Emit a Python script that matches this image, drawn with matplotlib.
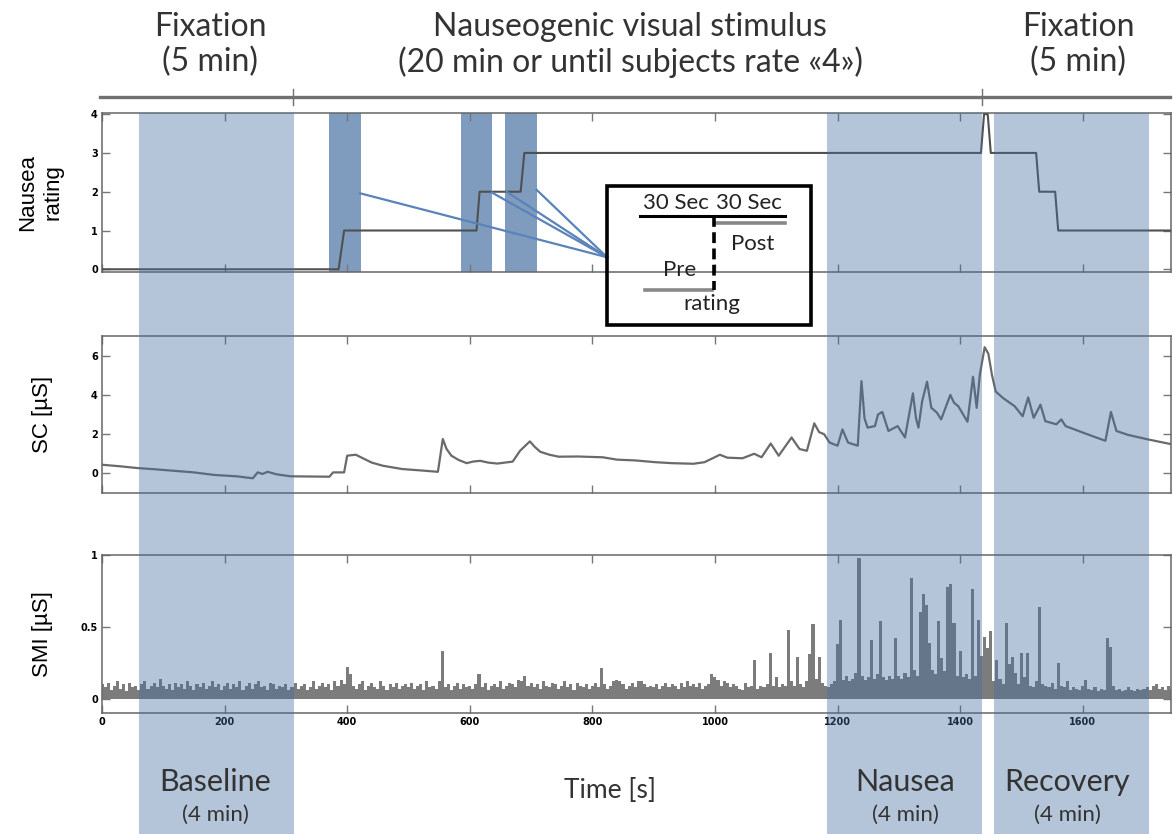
import matplotlib
matplotlib.use('Agg')
import matplotlib.pyplot as plt
import matplotlib.transforms as mtransforms
from matplotlib.patches import Rectangle
from matplotlib.lines import Line2D
import numpy as np

# ---- data ----
time_ticks = [0, 200, 400, 600, 800, 1000, 1200, 1400, 1600]

baseline_win = (60, 313)
nausea_win = (1183, 1435)
recovery_win = (1455, 1708)
rating_windows = [(370, 422), (586, 636), (658, 709)]
link_starts_t = [421, 636, 660, 709]
link_starts_v = [1.96, 1.98, 2.0, 2.05]

rating_t = [0, 386, 395, 611, 616, 683, 689, 1434, 1439, 1445, 1450, 1524, 1529, 1555, 1560, 1744]
rating_v = [0, 0, 1, 1, 2, 2, 3, 3, 4, 4, 3, 3, 2, 2, 1, 1]

sc_t = [0, 30, 58, 90, 114, 150, 183, 220, 246, 254, 262, 270, 285, 308, 340, 371, 377, 395,
        400, 405, 414, 425, 440, 458, 490, 520, 548, 556, 562, 570, 582, 595, 605, 617, 630,
        645, 670, 682, 698, 706, 715, 730, 745, 776, 817, 840, 870, 903, 930, 965, 983, 1008,
        1020, 1045, 1064, 1076, 1091, 1104, 1125, 1138, 1150, 1162, 1170, 1178, 1187, 1200,
        1208, 1217, 1233, 1239, 1244, 1249, 1261, 1266, 1273, 1283, 1298, 1310, 1323, 1328,
        1332, 1338, 1346, 1353, 1362, 1369, 1384, 1390, 1397, 1412, 1421, 1427, 1432, 1440,
        1446, 1452, 1458, 1470, 1489, 1502, 1511, 1520, 1531, 1539, 1557, 1565, 1572, 1600,
        1637, 1646, 1655, 1674, 1705, 1744]
sc_v = [0.44, 0.36, 0.27, 0.2, 0.14, 0.05, -0.08, -0.15, -0.25, 0.05, -0.03, 0.08, -0.05,
        -0.15, -0.16, -0.17, 0.05, 0.05, 0.9, 0.92, 0.95, 0.78, 0.55, 0.39, 0.22, 0.15, 0.08,
        1.75, 1.25, 0.9, 0.68, 0.52, 0.6, 0.64, 0.55, 0.5, 0.6, 1.15, 1.63, 1.35, 1.1, 0.95,
        0.85, 0.86, 0.82, 0.7, 0.66, 0.57, 0.52, 0.49, 0.57, 0.95, 0.8, 0.77, 1.0, 0.82, 1.52,
        0.9, 1.83, 1.24, 1.15, 2.55, 2.1, 2.0, 1.57, 1.41, 2.24, 1.57, 1.41, 4.7, 2.8, 2.33,
        2.41, 3.0, 3.13, 2.16, 2.41, 1.83, 4.08, 2.8, 2.33, 3.67, 4.67, 3.34, 3.1, 2.75, 4.0,
        3.6, 3.42, 2.63, 4.92, 3.34, 5.0, 6.43, 6.1, 5.0, 4.17, 3.84, 3.42, 2.91, 3.87, 2.83,
        3.5, 2.66, 2.5, 2.75, 2.41, 2.08, 1.66, 3.13, 2.16, 1.96, 1.74, 1.49]

# SMI in hundredths of uS, one value every 5 s starting at t = 0
smi_step = 5
smi_cent = [
    10, 8, 11, 6, 9, 12, 7, 10, 5, 11, 8, 9, 6, 10, 12, 7, 9, 11, 8, 14,
    9, 7, 10, 6, 11, 8, 10, 7, 12, 9, 6, 10, 8, 11, 7, 9, 12, 8, 10, 6,
    9, 11, 7, 10, 8, 12, 6, 9, 11, 7, 10, 12, 8, 9, 6, 11, 10, 7, 9, 8,
    10, 6, 8, 11, 7, 9, 10, 6, 8, 12, 7, 9, 11, 8, 10, 6, 12, 9, 13, 10,
    22, 17, 9, 7, 10, 12, 6, 9, 11, 8, 7, 12, 9, 6, 10, 8, 11, 7, 9, 10,
    8, 11, 7, 9, 10, 6, 12, 8, 9, 7, 12, 33, 8, 10, 6, 9, 11, 7, 10, 8,
    9, 7, 10, 17, 8, 11, 6, 9, 10, 8, 12, 7, 9, 11, 10, 8, 13, 12, 16, 9,
    11, 8, 10, 7, 12, 9, 8, 11, 10, 7, 9, 12, 8, 10, 6, 11, 9, 8, 10, 7,
    9, 11, 8, 21, 10, 7, 9, 12, 13, 12, 10, 7, 9, 11, 8, 12, 12, 10, 8, 9,
    8, 10, 7, 9, 11, 8, 10, 9, 7, 11, 8, 12, 9, 10, 8, 11, 7, 9, 10, 17,
    15, 13, 9, 12, 11, 8, 10, 9, 7, 6, 11, 8, 9, 27, 7, 9, 8, 10, 32, 9,
    15, 8, 10, 9, 48, 12, 9, 29, 10, 8, 12, 31, 52, 14, 29, 11, 9, 8, 10, 12,
    38, 55, 13, 16, 12, 14, 18, 98, 16, 13, 15, 41, 14, 17, 54, 15, 13, 16, 14, 42,
    16, 14, 18, 15, 84, 20, 16, 60, 73, 65, 39, 20, 17, 54, 28, 19, 78, 80, 53, 16,
    33, 15, 17, 14, 76, 16, 55, 30, 43, 35, 47, 12, 27, 14, 10, 53, 24, 29, 18, 10,
    32, 15, 32, 9, 8, 12, 64, 10, 9, 8, 11, 7, 25, 9, 8, 12, 6, 8, 7, 6,
    9, 13, 7, 6, 8, 5, 7, 6, 42, 36, 9, 6, 7, 5, 6, 8, 6, 5, 7, 6,
    7, 8, 6, 9, 10, 7, 8, 6, 9, 7,
]

W, H = 1173, 834
band_rgb = (70 / 255, 110 / 255, 160 / 255)


def fx(x):
    return x / W


def fy(y):
    return 1 - y / H


fig = plt.figure(figsize=(W / 100, H / 100), dpi=100)


def add_ax(top, bottom):
    return fig.add_axes([fx(102), fy(bottom), fx(1171) - fx(102), (bottom - top) / H])


ax1 = add_ax(113, 272)
ax2 = add_ax(336, 493)
ax3 = add_ax(555, 713)

tick_font = dict(family='DejaVu Sans', weight='bold', size=7)
for ax in (ax1, ax2, ax3):
    ax.set_xlim(0, 1744)
    ax.set_xticks(time_ticks)
    ax.tick_params(direction='in', length=6, width=1, color='#777777',
                   top=True, right=True, pad=3)
    for s in ax.spines.values():
        s.set_color('#666666')
        s.set_linewidth(1.1)

# nausea rating
ax1.set_ylim(-0.07, 4.03)
ax1.set_yticks([0, 1, 2, 3, 4])
ax1.set_yticklabels(['0', '1', '2', '3', '4'], **tick_font)
ax1.set_xticklabels([])
for a, b in rating_windows:
    ax1.axvspan(a, b, color=band_rgb, alpha=0.69, lw=0, zorder=1)
ax1.plot(rating_t, rating_v, color='#505050', lw=1.5, zorder=3)
for t0, v0 in zip(link_starts_t, link_starts_v):
    ax1.plot([t0, 824], [v0, 0.31], color='#5a83ba', lw=1.6, zorder=4, clip_on=False)
ax1.set_ylabel('Nausea\nrating', family='Liberation Sans', fontsize=16, linespacing=1.25)
ax1.yaxis.set_label_coords(-0.036, 0.5)

# skin conductance
ax2.set_ylim(-1, 7)
ax2.set_yticks([0, 2, 4, 6])
ax2.set_yticklabels(['0', '2', '4', '6'], **tick_font)
ax2.set_xticklabels([])
ax2.plot(sc_t, sc_v, color='#6a6a6a', lw=1.6)
ax2.set_ylabel('SC [µS]', family='Liberation Sans', fontsize=16)
ax2.yaxis.set_label_coords(-0.046, 0.5)

# SMI
smi = np.array(smi_cent) / 100.0
smi_t = np.arange(len(smi)) * smi_step
ax3.bar(smi_t, smi, width=smi_step, color='#7c7c7c', lw=0)
ax3.set_ylim(-0.1, 1.0)
ax3.set_yticks([0, 0.5, 1])
ax3.set_yticklabels(['0', '0.5', '1'], **tick_font)
ax3.set_xticklabels([str(t) for t in time_ticks], **tick_font)
ax3.set_ylabel('SMI [µS]', family='Liberation Sans', fontsize=16)
ax3.yaxis.set_label_coords(-0.046, 0.5)

# shaded epochs across all panels
btrans = mtransforms.blended_transform_factory(ax1.transData, fig.transFigure)
for a, b in (baseline_win, nausea_win, recovery_win):
    fig.add_artist(Rectangle((a, 0), b - a, fy(113), transform=btrans, color=band_rgb,
                             alpha=0.4, lw=0, zorder=1))

# top timeline bar
fig.add_artist(Line2D([fx(100), fx(1170)], [fy(97), fy(97)], color='#707070', lw=2.4))
for xp in (293, 982):
    fig.add_artist(Line2D([fx(xp), fx(xp)], [fy(89), fy(105)], color='#707070', lw=1))

head = dict(family='Lato', fontsize=23, color='#333333', ha='center', va='center')
fig.text(fx(210), fy(27), 'Fixation', **head)
fig.text(fx(210), fy(62), '(5 min)', **head)
fig.text(fx(630), fy(27), 'Nauseogenic visual stimulus', **head)
fig.text(fx(630), fy(62), '(20 min or until subjects rate «4»)', **head)
fig.text(fx(1078), fy(27), 'Fixation', **head)
fig.text(fx(1078), fy(62), '(5 min)', **head)

# inset legend box
fig.add_artist(Rectangle((fx(607), fy(325)), fx(811) - fx(607), (325 - 186) / H,
                         transform=fig.transFigure, fill=False, ec='black', lw=2.6, zorder=5))
fig.add_artist(Line2D([fx(640), fx(785)], [fy(216), fy(216)], color='black', lw=2.2, zorder=5))
fig.add_artist(Line2D([fx(716), fx(785)], [fy(223), fy(223)], color='#888888', lw=2.6, zorder=5))
fig.add_artist(Line2D([fx(645), fx(712)], [fy(290), fy(290)], color='#888888', lw=2.6, zorder=5))
fig.add_artist(Line2D([fx(714), fx(714)], [fy(216), fy(290)], color='black', lw=2.6,
                      ls=(0, (3, 1.5)), zorder=5))
box = dict(family='Lato', fontsize=16, color='#222222', ha='center', va='center', zorder=6)
fig.text(fx(676), fy(203), '30 Sec', **box)
fig.text(fx(749), fy(203), '30 Sec', **box)
fig.text(fx(753), fy(244), 'Post', **box)
fig.text(fx(680), fy(270), 'Pre', **box)
fig.text(fx(712), fy(304), 'rating', **box)

# bottom epoch labels
lab = dict(family='Lato', fontsize=22, color='#333333', ha='center', va='center')
sub = dict(family='Lato', fontsize=16, color='#333333', ha='center', va='center')
for xc, name in ((215, 'Baseline'), (905, 'Nausea'), (1067, 'Recovery')):
    fig.text(fx(xc), fy(782), name, **lab)
    fig.text(fx(xc), fy(815), '(4 min)', **sub)
fig.text(fx(610), fy(790), 'Time [s]', family='Lato', fontsize=19, color='#333333',
         ha='center', va='center')

fig.savefig('out.png', dpi=100)
